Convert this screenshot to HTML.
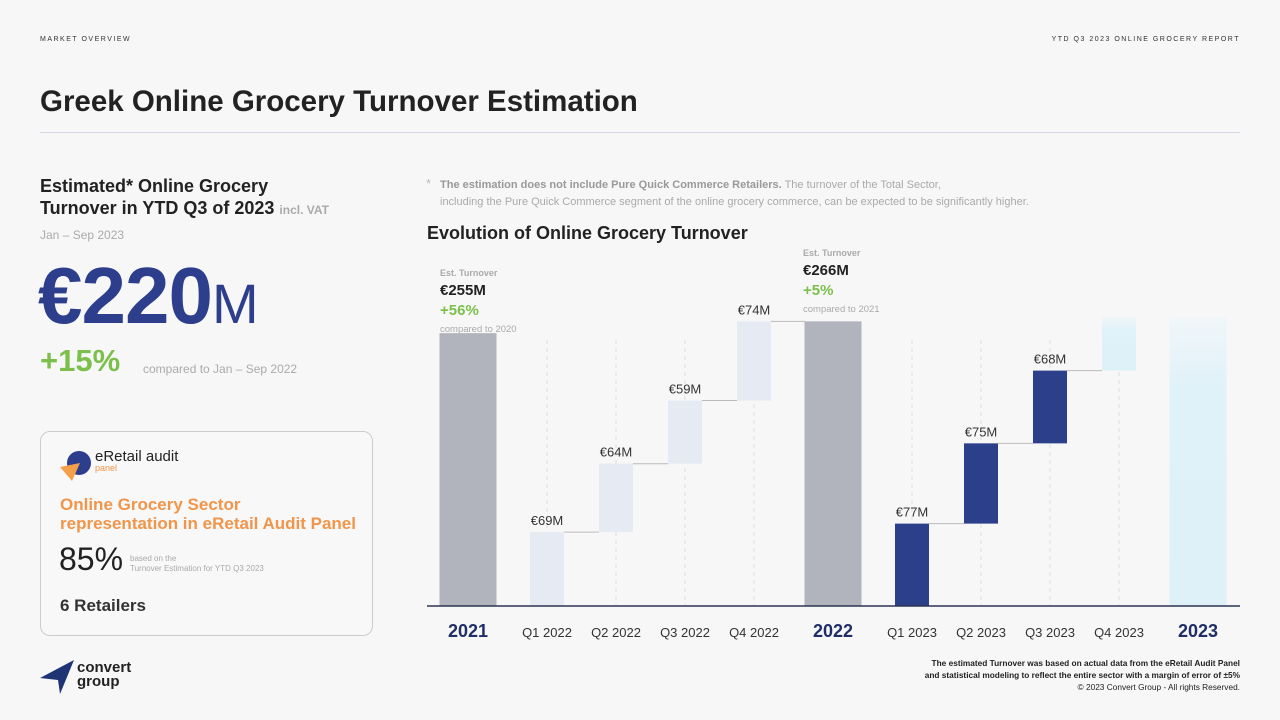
<!DOCTYPE html>
<html><head><meta charset="utf-8"><style>
body{margin:0;width:1280px;height:720px;background:#f7f7f8;font-family:"Liberation Sans",sans-serif;position:relative;overflow:hidden;color:#222}
.a{position:absolute;white-space:nowrap}
</style></head><body>
<div class="a" style="left:40px;top:36px;font-size:7px;letter-spacing:1.5px;color:#333">MARKET OVERVIEW</div>
<div class="a" style="right:40px;top:36px;font-size:7px;letter-spacing:1.5px;color:#333">YTD Q3 2023 ONLINE GROCERY REPORT</div>
<div class="a" style="left:40px;top:85px;font-size:29.5px;font-weight:bold;color:#222">Greek Online Grocery Turnover Estimation</div>
<div class="a" style="left:40px;top:132px;width:1200px;height:1px;background:#d6d8e6"></div>

<div class="a" style="left:40px;top:175px;font-size:18px;font-weight:bold;line-height:22px;color:#222">Estimated* Online Grocery<br>Turnover in YTD Q3 of 2023 <span style="font-size:12px;color:#aaa">incl. VAT</span></div>
<div class="a" style="left:40px;top:228px;font-size:12px;color:#aaa">Jan – Sep 2023</div>
<div class="a" style="left:38px;top:250px;font-size:80px;font-weight:bold;color:#2c3e8c;letter-spacing:-1px">€220<span style="font-size:56px;font-weight:normal">M</span></div>
<div class="a" style="left:40px;top:343px;font-size:31px;font-weight:bold;color:#7cc04b">+15%</div>
<div class="a" style="left:143px;top:362px;font-size:12px;color:#aaa">compared to Jan – Sep 2022</div>

<div class="a" style="left:40px;top:431px;width:331px;height:203px;border:1px solid #ccc;border-radius:10px;background:#f8f8f8"></div>
<svg class="a" style="left:60px;top:449px" width="34" height="32"><circle cx="19" cy="14" r="12" fill="#2c3e8c"/><polygon points="0,18 20,14 12,32" fill="#f4a04a"/></svg>
<div class="a" style="left:95px;top:448px;font-size:15px;color:#222">eRetail audit</div>
<div class="a" style="left:95px;top:463px;font-size:9px;color:#f0954a">panel</div>
<div class="a" style="left:60px;top:495px;font-size:17px;font-weight:bold;line-height:19px;color:#f0954a">Online Grocery Sector<br>representation in eRetail Audit Panel</div>
<div class="a" style="left:59px;top:541px;font-size:32px;color:#222">85%</div>
<div class="a" style="left:130px;top:554px;font-size:8px;line-height:10px;color:#aaa">based on the<br>Turnover Estimation for YTD Q3 2023</div>
<div class="a" style="left:60px;top:596px;font-size:17px;font-weight:bold;color:#333">6 Retailers</div>

<svg class="a" style="left:40px;top:660px" width="36" height="34"><polygon points="0,18 34,0 20,34 18,20" fill="#1f3475"/></svg>
<div class="a" style="left:77px;top:661px;font-size:15px;font-weight:bold;line-height:14px;color:#222">convert<br>group</div>

<div class="a" style="left:426px;top:176px;font-size:13px;color:#bbb">*</div>
<div class="a" style="left:440px;top:177px;font-size:11px;line-height:17px;color:#aaa"><b style="color:#999">The estimation does not include Pure Quick Commerce Retailers.</b> The turnover of the Total Sector,<br>including the Pure Quick Commerce segment of the online grocery commerce, can be expected to be significantly higher.</div>
<div class="a" style="left:427px;top:223px;font-size:18px;font-weight:bold;color:#222">Evolution of Online Grocery Turnover</div>

<div class="a" style="right:40px;top:657px;text-align:right;font-size:8.3px;line-height:12px;color:#222;font-weight:bold">The estimated Turnover was based on actual data from the eRetail Audit Panel<br>and statistical modeling to reflect the entire sector with a margin of error of ±5%<br><span style="font-weight:normal">© 2023 Convert Group - All rights Reserved.</span></div>

<svg class="a" id="chart" style="left:0;top:0" width="1280" height="720"></svg>
<script>
const categories=["2021","Q1 2022","Q2 2022","Q3 2022","Q4 2022","2022","Q1 2023","Q2 2023","Q3 2023","Q4 2023","2023"];
const values=[255,69,64,59,74,266,77,75,68,50,270];
const isTotal=[true,false,false,false,false,true,false,false,false,false,true];
const valueLabels=["","€69M","€64M","€59M","€74M","","€77M","€75M","€68M","",""];
const NS="http://www.w3.org/2000/svg",svg=document.getElementById('chart');
const base=606,scale=1.07;
function y(v){return base-v*scale;}
function el(t,a,p){const e=document.createElementNS(NS,t);for(const k in a)e.setAttribute(k,a[k]);(p||svg).appendChild(e);return e;}
const xs=[];let cx=468;
for(let i=0;i<categories.length;i++){if(i>0){cx+=(isTotal[i]||isTotal[i-1])?79:69;}xs.push(cx);}
const defs=el('defs',{});const g=el('linearGradient',{id:'fade',x1:0,y1:0,x2:0,y2:1},defs);
el('stop',{offset:'0','stop-color':'#e2f3fa','stop-opacity':'0.3'},g);el('stop',{offset:'0.25','stop-color':'#dff1f9'},g);el('stop',{offset:'1','stop-color':'#def0f8'},g);
let cum=0;
for(let i=0;i<categories.length;i++){
  const tot=isTotal[i],w=tot?57:34,x=xs[i]-w/2;
  if(!tot){const d=el('line',{x1:xs[i],x2:xs[i],y1:340,y2:base,stroke:'#ddd','stroke-dasharray':'4,4'});}
  let top,h,fill;
  if(tot){top=y(values[i]);h=values[i]*scale;cum=0;fill=i===10?'url(#fade)':'#b1b3bd';}
  else{top=y(cum+values[i]);h=values[i]*scale;fill=i<5?'#e6eaf2':(i===9?'url(#fade)':'#2b3f8b');cum+=values[i];}
  const r=el('rect',{x:x,y:top,width:w,height:h,fill:fill});
  
  
  if(!tot&&i+1<categories.length&&!isTotal[i+1]){const nw=34;el('line',{x1:x+w,x2:xs[i+1]-nw/2,y1:top,y2:top,stroke:'#bbb','stroke-width':1});}
  if(i===4){el('line',{x1:x+w,x2:xs[5]-28,y1:top,y2:top,stroke:'#bbb','stroke-width':1});}
  if(valueLabels[i]){const t=el('text',{x:xs[i],y:top-7,'text-anchor':'middle','font-size':13,fill:'#333'});t.textContent=valueLabels[i];}
  const lt=el('text',{x:xs[i],y:637,'text-anchor':'middle','font-size':tot?18:13,'font-weight':tot?'bold':'normal',fill:tot?'#1f2e66':'#333'});
  lt.textContent=categories[i];
  
  
}
el('line',{x1:427,x2:1240,y1:base,y2:base,stroke:'#2b3553','stroke-width':1.5});
function ann(x,top,val,pct,cmp){
  const a=[['Est. Turnover',9,'#aaa','bold',0],[val,15,'#222','bold',19],[pct,15,'#7cc04b','bold',39],[cmp,9.5,'#aaa','normal',56]];
  a.forEach(r=>{const t=el('text',{x:x,y:top+r[4],'font-size':r[1],fill:r[2],'font-weight':r[3]});t.textContent=r[0];});
}
ann(440,276,'€255M','+56%','compared to 2020');
ann(803,256,'€266M','+5%','compared to 2021');
</script>
</body></html>
